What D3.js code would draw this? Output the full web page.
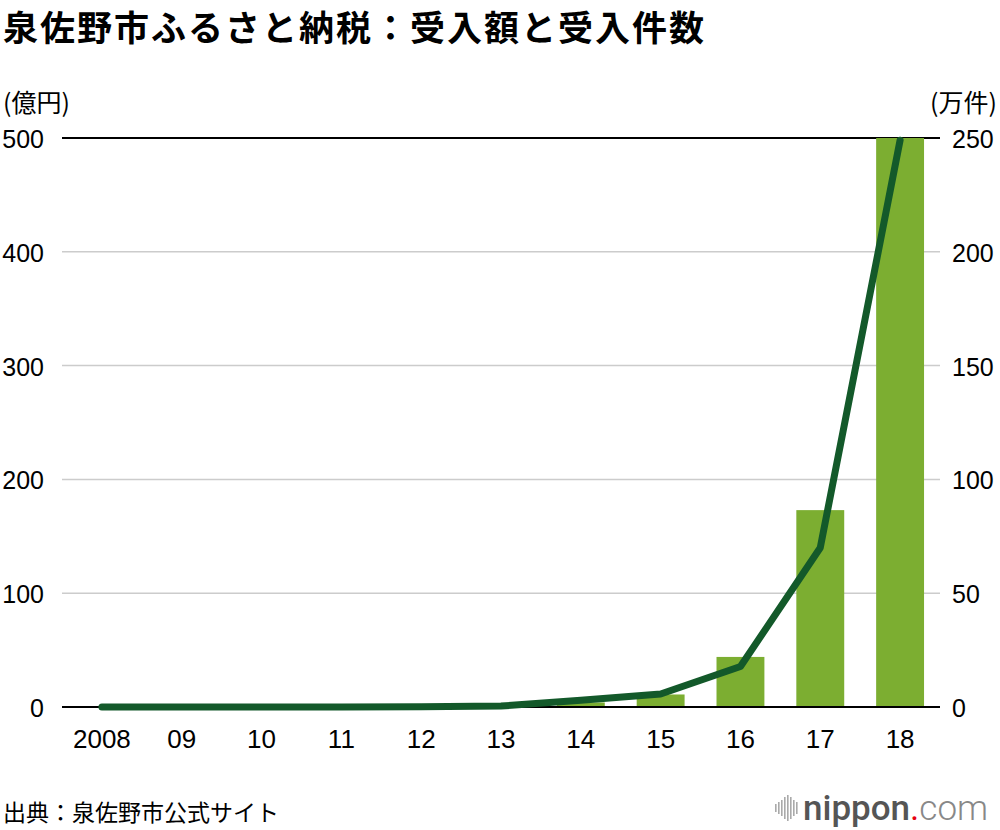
<!DOCTYPE html>
<html>
<head>
<meta charset="utf-8">
<script src="https://cdn.jsdelivr.net/npm/d3@7"></script>
<style>
  body { margin: 0; background: #fff; }
  svg text { font-family: "Liberation Sans", Arial, sans-serif; }
  .jp { font-family: "Noto Sans CJK JP", sans-serif; }
</style>
</head>
<body>
<svg id="chart" width="1000" height="830"></svg>
<script>
// 年度
var years = ["2008", "09", "10", "11", "12", "13", "14", "15", "16", "17", "18"];
// 受入額（億円）
var amounts = [0.1, 0.1, 0.1, 0.1, 0.2, 0.5, 4, 11, 44, 173, 500];
// 受入件数（万件）
var counts = [0.05, 0.05, 0.05, 0.05, 0.1, 0.4, 3, 5.7, 17.8, 70, 249];
var leftTicks = [0, 100, 200, 300, 400, 500];
var rightTicks = [0, 50, 100, 150, 200, 250];

var svg = d3.select("#chart");
var plotLeft = 62, plotRight = 940, plotTop = 138, plotBottom = 707;

var x = d3.scaleBand().domain(years).range([plotLeft, plotRight]).paddingInner(0.4).paddingOuter(0.2);
var yL = d3.scaleLinear().domain([0, 500]).range([plotBottom, plotTop]);
var yR = d3.scaleLinear().domain([0, 250]).range([plotBottom, plotTop]);

// title
svg.append("text").attr("class", "jp")
    .attr("x", 3).attr("y", 41)
    .style("font-size", "35px").style("font-weight", "bold")
    .style("letter-spacing", "2px")
    .text("泉佐野市ふるさと納税：受入額と受入件数");

// unit labels
svg.append("text").attr("class", "jp").attr("x", 3).attr("y", 112)
    .style("font-size", "25px").text("(億円)");
svg.append("text").attr("class", "jp").attr("x", 997).attr("y", 112)
    .attr("text-anchor", "end").style("font-size", "25px").text("(万件)");

// grid lines
svg.append("g").selectAll("line").data(leftTicks).enter().append("line")
    .attr("x1", plotLeft).attr("x2", plotRight)
    .attr("y1", function(d) { return yL(d); })
    .attr("y2", function(d) { return yL(d); })
    .attr("stroke", function(d) { return (d === 0 || d === 500) ? "#000" : "#cccccc"; })
    .attr("stroke-width", function(d) { return (d === 0 || d === 500) ? 2 : 1.5; });

// left axis labels
svg.append("g").selectAll("text").data(leftTicks).enter().append("text")
    .attr("x", 44).attr("y", function(d) { return yL(d) + 10; })
    .attr("text-anchor", "end").style("font-size", "25px")
    .text(function(d) { return d; });

// right axis labels
svg.append("g").selectAll("text").data(rightTicks).enter().append("text")
    .attr("x", 952).attr("y", function(d) { return yR(d) + 10; })
    .style("font-size", "25px")
    .text(function(d) { return d; });

// bars
svg.append("g").selectAll("rect").data(amounts).enter().append("rect")
    .attr("x", function(d, i) { return x(years[i]); })
    .attr("width", x.bandwidth())
    .attr("y", function(d) { return yL(d); })
    .attr("height", function(d) { return plotBottom - yL(d); })
    .attr("fill", "#7cae31");

// baseline over bars
svg.append("line").attr("x1", plotLeft).attr("x2", plotRight)
    .attr("y1", plotBottom).attr("y2", plotBottom)
    .attr("stroke", "#000").attr("stroke-width", 2);

// line
var line = d3.line()
    .x(function(d, i) { return x(years[i]) + x.bandwidth() / 2; })
    .y(function(d) { return yR(d); });
svg.append("path").datum(counts)
    .attr("d", line)
    .attr("fill", "none")
    .attr("stroke", "#13592a")
    .attr("stroke-width", 7)
    .attr("stroke-linecap", "round")
    .attr("stroke-linejoin", "round");

// x labels
svg.append("g").selectAll("text").data(years).enter().append("text")
    .attr("x", function(d) { return x(d) + x.bandwidth() / 2; })
    .attr("y", 748).attr("text-anchor", "middle")
    .style("font-size", "26px")
    .text(function(d) { return d; });

// source
svg.append("text").attr("class", "jp").attr("x", 3).attr("y", 821)
    .style("font-size", "23px").text("出典：泉佐野市公式サイト");

// logo
var logo = svg.append("g");
var barH = [8, 12, 16, 22, 26, 22, 16, 12];
logo.selectAll("rect").data(barH).enter().append("rect")
    .attr("x", function(d, i) { return 775 + i * 3; })
    .attr("y", function(d) { return 808 - d / 2; })
    .attr("width", 1.6).attr("height", function(d) { return d; })
    .attr("fill", "#aaa");
var lt = logo.append("text").attr("x", 803).attr("y", 820)
    .style("font-size", "35px").style("font-family", "Roboto, sans-serif");
lt.append("tspan").attr("fill", "#555").style("font-weight", "500").text("nippon");
lt.append("tspan").attr("fill", "#e60012").text(".");
lt.append("tspan").attr("fill", "#888").style("font-weight", "300").text("com");
</script>
</body>
</html>
